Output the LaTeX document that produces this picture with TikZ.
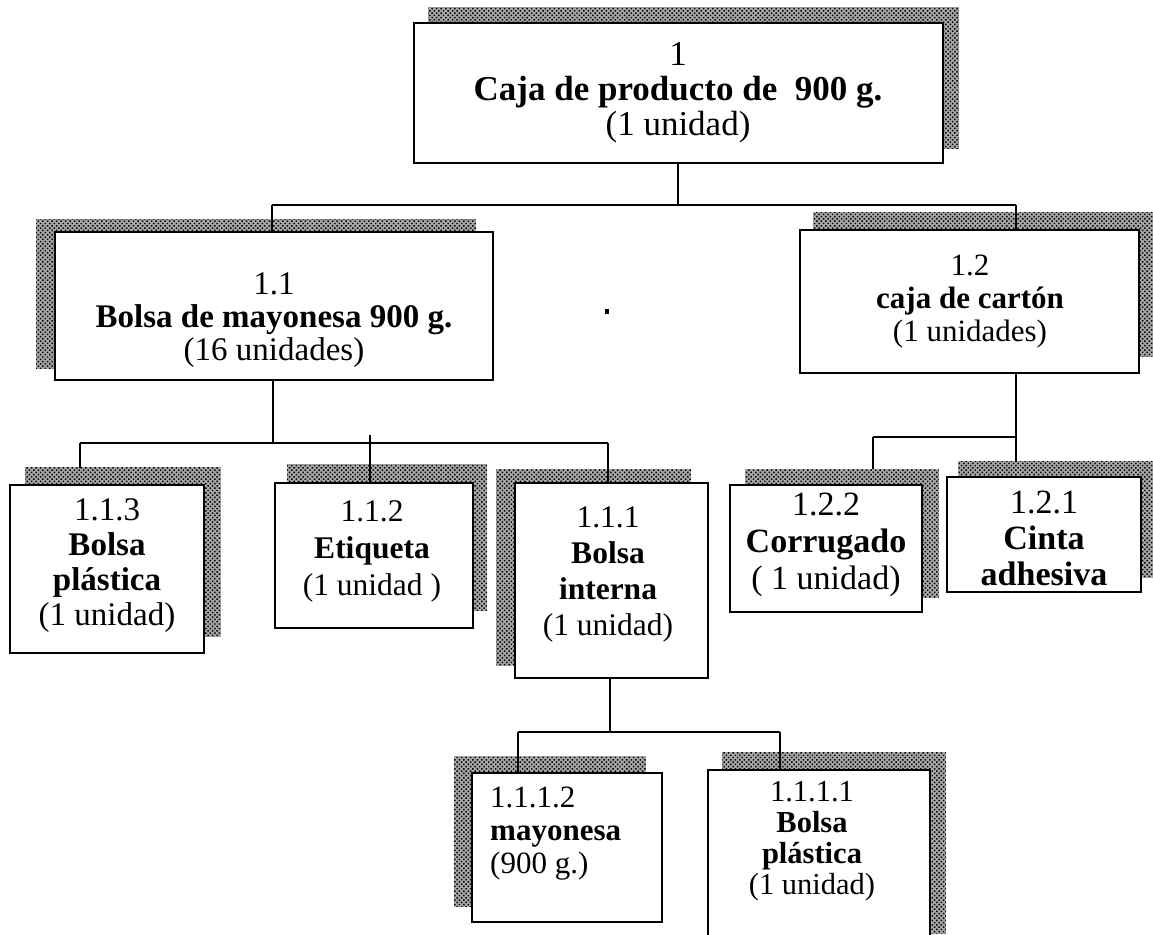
\documentclass[tikz,border=0pt]{standalone}
\usepackage{fontspec}
\setmainfont{Liberation Serif}
\usetikzlibrary{patterns.meta,backgrounds}

\begin{document}
\begin{tikzpicture}[x=1pt,y=-1pt,
  box/.style={draw=black, line width=1.8pt, fill=white, inner sep=0pt},
  shade/.style={preaction={fill=black!35},
    pattern={Dots[distance=3.2pt,radius=1.05pt,angle=45]}, pattern color=black},
  wire/.style={line width=1.8pt},
  lbl/.style 2 args={align=center, inner sep=0pt, font=\fontsize{#1}{#2}\selectfont}]
\useasboundingbox (0,0) rectangle (1153,934);
\clip (0,0) rectangle (1153,934);

% boxes
\node[box, minimum width=529pt, minimum height=140pt] (b1)    at (678.5,93)  {};
\node[box, minimum width=438pt, minimum height=148pt] (b11)   at (274,306)   {};
\node[box, minimum width=339pt, minimum height=143pt] (b12)   at (969.5,301.5) {};
\node[box, minimum width=194pt, minimum height=168pt] (b113)  at (107,569)   {};
\node[box, minimum width=198pt, minimum height=145pt] (b112)  at (374,555.5) {};
\node[box, minimum width=193pt, minimum height=195pt] (b111)  at (611.5,580.5) {};
\node[box, minimum width=192pt, minimum height=127pt] (b122)  at (826,548.5) {};
\node[box, minimum width=194pt, minimum height=115pt] (b121)  at (1044,534.5) {};
\node[box, minimum width=190pt, minimum height=149pt] (b1112) at (567,847.5) {};
\node[box, minimum width=222pt, minimum height=180pt] (b1111) at (819,860)   {};

% labels
\node[lbl={35}{35}] (t1) at (678,93) {1\\\textbf{Caja de producto de\ \ 900 g.}\\(1 unidad)};
\node[lbl={33}{33}] (t11) at (274,320) {1.1\\\textbf{Bolsa de mayonesa 900 g.}\\(16 unidades)};
\node[lbl={31}{33}] (t12) at (970,302) {1.2\\\textbf{caja de cartón}\\(1 unidades)};
\node[lbl={33}{35}] (t113) at (107,566) {1.1.3\\\textbf{Bolsa}\\\textbf{plástica}\\(1 unidad)};
\node[lbl={31.5}{37}] (t112) at (372,551) {1.1.2\\\textbf{Etiqueta}\\(1 unidad )};
\node[lbl={31.5}{36}] (t111) at (608,574) {1.1.1\\\textbf{Bolsa}\\\textbf{interna}\\(1 unidad)};
\node[lbl={34}{37}] (t122) at (826,545) {1.2.2\\\textbf{Corrugado}\\( 1 unidad)};
\node[lbl={34}{36}] (t121) at (1044,538) {1.2.1\\\textbf{Cinta}\\\textbf{adhesiva}};
\node[lbl={31}{33}, align=left, anchor=west] (t1112) at (490,834) {1.1.1.2\\\textbf{mayonesa}\\(900 g.)};
\node[lbl={30.5}{31}] (t1111) at (812,841) {1.1.1.1\\\textbf{Bolsa}\\\textbf{plástica}\\(1 unidad)};

% stray mark
\fill (605,309) rectangle (609,314);

% junction points of the tree
\coordinate (j1)  at (678,205);
\coordinate (j1l) at (272,205);
\coordinate (j1r) at (1016,205);
\coordinate (j2)  at (273,443);
\coordinate (j2l) at (80,443);
\coordinate (j2m) at (370,435);
\coordinate (j2r) at (608,443);
\coordinate (j3)  at (1016,437);
\coordinate (j3l) at (873,437);
\coordinate (j4)  at (610,732);
\coordinate (j4l) at (518,732);
\coordinate (j4r) at (780,732);

\begin{scope}[on background layer]
  % drop shadows
  \foreach \n/\dx/\dy in {b1/15/-15, b11/-18/-12, b12/14/-17, b113/16/-17,
      b112/13/-18, b111/-18/-13, b122/16/-15, b121/12/-15, b1112/-17/-16, b1111/15/-17}
    \path[shade] ([shift={(\dx,\dy)}]\n.south west) rectangle ([shift={(\dx,\dy)}]\n.north east);

  % connectors
  \draw[wire] (b1.south -| j1) -- (j1);
  \draw[wire] (j1l) -- (j1r);
  \draw[wire] (j1l) -- (j1l |- b11.north);
  \draw[wire] (j1r) -- (j1r |- b12.north);

  \draw[wire] (b11.south -| j2) -- (j2);
  \draw[wire] (j2l) -- (j2r);
  \draw[wire] (j2l) -- (80,468);
  \draw[wire] (j2m) -- (j2m |- b112.north);
  \draw[wire] (j2r) -- (j2r |- b111.north);

  \draw[wire] (b12.south -| j3) -- (j3);
  \draw[wire] (j3l) -- (j3);
  \draw[wire] (j3l) -- (873,469);
  \draw[wire] (j3) -- (1016,462);

  \draw[wire] (b111.south -| j4) -- (j4);
  \draw[wire] (j4l) -- (j4r);
  \draw[wire] (j4l) -- (j4l |- b1112.north);
  \draw[wire] (j4r) -- (j4r |- b1111.north);
\end{scope}
\end{tikzpicture}
\end{document}
